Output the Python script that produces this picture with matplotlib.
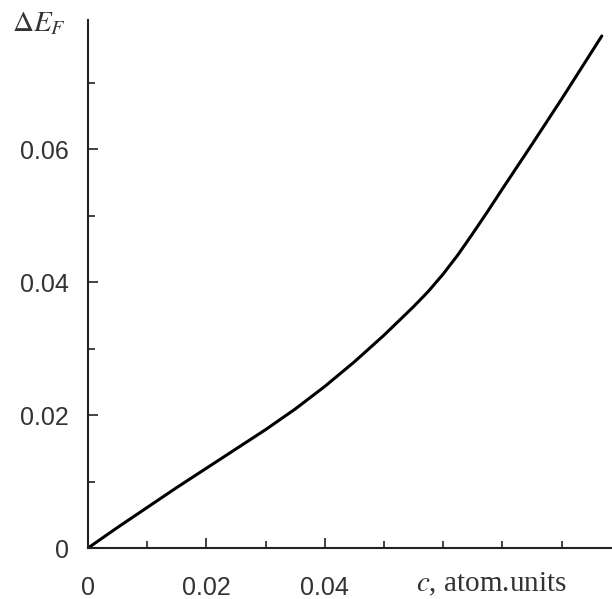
import matplotlib
matplotlib.use("Agg")
import matplotlib.pyplot as plt
from matplotlib.ticker import MultipleLocator

# values
c = [0, 0.005, 0.01, 0.015, 0.02, 0.025, 0.03, 0.035, 0.04, 0.045,
     0.05, 0.055, 0.0575, 0.06, 0.0625, 0.065, 0.0675, 0.07, 0.075, 0.08, 0.0868]
dEF = [0, 0.0031, 0.0061, 0.0091, 0.0120, 0.0149, 0.0178, 0.0209, 0.0243,
       0.0280, 0.0320, 0.0363, 0.0386, 0.0412, 0.0441, 0.0473, 0.0506, 0.0540,
       0.0607, 0.0675, 0.0770]

xticks = [0, 0.02, 0.04]
xticklabels = ["0", "0.02", "0.04"]
yticks = [0, 0.02, 0.04, 0.06]
yticklabels = ["0", "0.02", "0.04", "0.06"]

plt.rcParams["font.family"] = ["Liberation Sans", "DejaVu Sans"]
plt.rcParams["mathtext.fontset"] = "stix"

fig = plt.figure(figsize=(6.12, 5.99), dpi=100)
ax = fig.add_axes([0.1438, 0.0851, 0.856, 0.8815])

ax.plot(c, dEF, color="black", lw=2.2, solid_capstyle="round",
        solid_joinstyle="round")

ax.set_xlim(0, 0.0885)
ax.set_ylim(0, 0.0794)

for s in ["top", "right"]:
    ax.spines[s].set_visible(False)
for s in ["left", "bottom"]:
    ax.spines[s].set_linewidth(1.5)
    ax.spines[s].set_color("#222222")

ax.set_xticks(xticks)
ax.set_xticklabels(xticklabels)
ax.set_yticks(yticks)
ax.set_yticklabels(yticklabels)
ax.xaxis.set_minor_locator(MultipleLocator(0.01))
ax.yaxis.set_minor_locator(MultipleLocator(0.01))

ax.tick_params(axis="both", which="major", direction="in", length=7.2,
               width=1.2, color="#222222", labelsize=18, labelcolor="#333333")
ax.tick_params(axis="both", which="minor", direction="in", length=5,
               width=1.2, color="#222222")
ax.tick_params(axis="x", which="major", pad=20)
ax.tick_params(axis="y", which="major", pad=14)
for lab in ax.get_yticklabels():
    if lab.get_text() == "0":
        lab.set_y(-0.0008)

fig.text(0.019, 0.938, r"$\Delta E_F$", fontsize=21, color="#333333",
         ha="left", va="bottom")
fig.text(0.68, 0.002, r"$c$, atom.units", fontsize=21, color="#333333",
         family="Liberation Serif", ha="left", va="bottom")

fig.savefig("out.png", dpi=100)
